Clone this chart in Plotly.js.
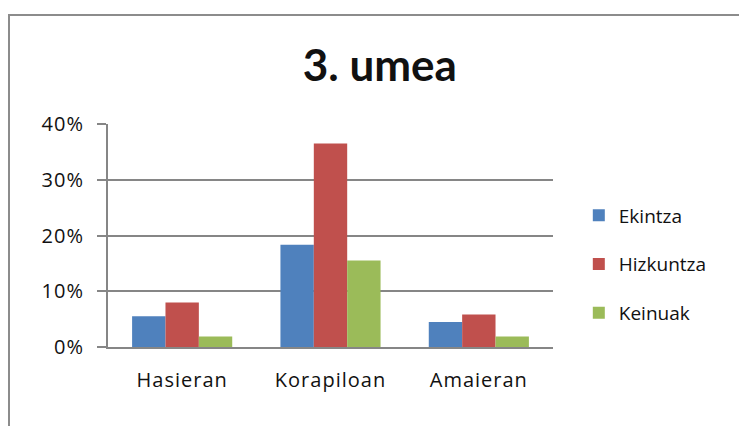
<!DOCTYPE html>
<html><head><meta charset="utf-8">
<script src="https://cdn.plot.ly/plotly-3.0.1.min.js"></script>
<style>
html,body{margin:0;padding:0;background:#fff;}
#wrap{position:relative;width:739px;height:426px;overflow:hidden;}
#chart{position:absolute;left:0;top:0;width:739px;height:426px;}
#frame{position:absolute;left:8px;top:14px;width:760px;height:440px;border-left:2px solid #8c8c8c;border-top:2px solid #8c8c8c;pointer-events:none;}
#chart .xtick text, #chart .ytick text{letter-spacing:1px;}
</style></head>
<body><div id="wrap"><div id="chart"></div><div id="frame"></div></div>
<script>
var categories = ["Hasieran", "Korapiloan", "Amaieran"];
var seriesNames = ["Ekintza", "Hizkuntza", "Keinuak"];
var ekintza = [0.055, 0.1835, 0.045];
var hizkuntza = [0.080, 0.365, 0.0585];
var keinuak = [0.019, 0.155, 0.019];
var yTickVals = [0, 0.1, 0.2, 0.3, 0.4];
var yTickText = ["0%", "10%", "20%", "30%", "40%"];
var colors = ["#4F81BD", "#C0504D", "#9BBB59"];
var values = [ekintza, hizkuntza, keinuak];

var FONT = "'Open Sans', Lato, sans-serif";
var traces = seriesNames.map(function(n, i){
  return {type:"bar", name:n, x:categories, y:values[i], legendgroup:"g"+i,
    marker:{color:colors[i], line:{width:0}}, hoverinfo:"none"};
});
var layout = {
  width:739, height:426,
  margin:{l:108, r:186, t:124, b:79},
  paper_bgcolor:"#fff", plot_bgcolor:"#fff",
  font:{family:FONT, size:20, color:"#111"},
  title:{text:"<b>3. umea</b>", font:{family:"Lato, sans-serif", size:44, color:"#111"},
    x:0.514, xref:"container", xanchor:"center", y:0.845, yref:"container", yanchor:"middle"},
  barmode:"group", bargap:0.325, bargroupgap:0,
  xaxis:{type:"category", showline:true, linecolor:"#868686", linewidth:2,
    ticks:"", showgrid:false, ticklabelstandoff:14, tickfont:{size:20}},
  yaxis:{range:[0,0.4], tickvals:yTickVals, ticktext:yTickText, showgrid:true,
    gridcolor:"#868686", gridwidth:2, showline:true, linecolor:"#868686", linewidth:2,
    ticks:"outside", ticklen:9, tickwidth:2, tickcolor:"#868686", ticklabelstandoff:9,
    zeroline:false, tickfont:{size:20}},
  showlegend:true,
  legend:{x:1.058, xanchor:"left", y:0.37, yanchor:"middle", traceorder:"grouped",
    tracegroupgap:21, font:{size:19}, bgcolor:"rgba(0,0,0,0)"}
};
Plotly.newPlot("chart", traces, layout, {staticPlot:true, displayModeBar:false});
</script></body></html>
